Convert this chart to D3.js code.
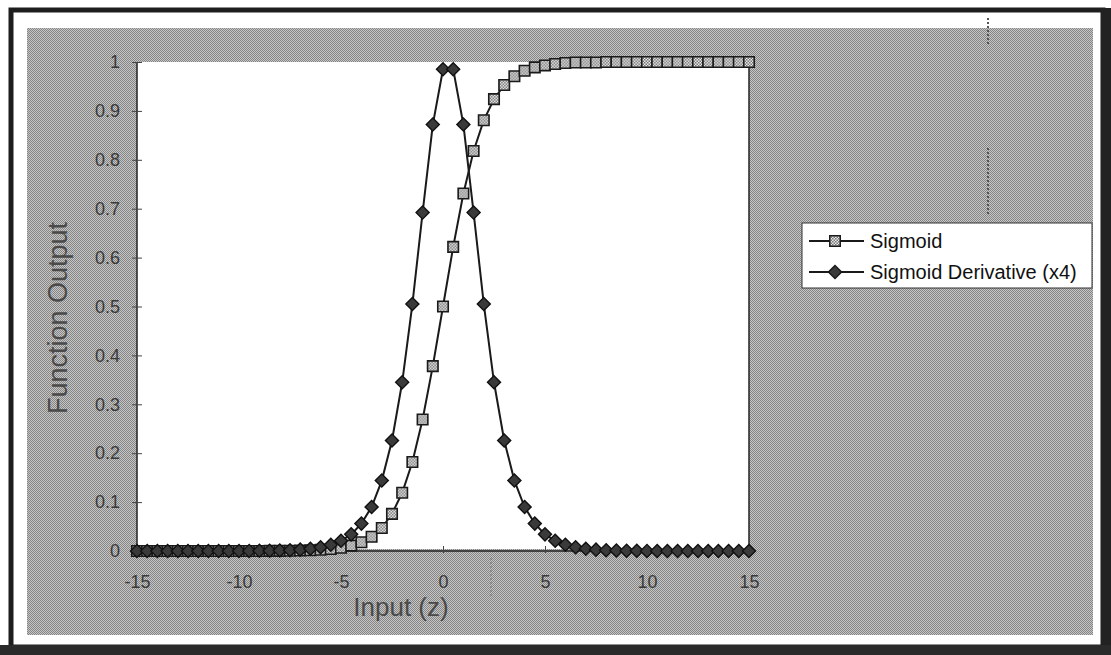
<!DOCTYPE html>
<html>
<head>
<meta charset="utf-8">
<script src="https://cdn.jsdelivr.net/npm/d3@7"></script>
<style>
  body { margin: 0; background: #fff; }
  text { font-family: Arial, "Liberation Sans", sans-serif; }
</style>
</head>
<body>
<div id="chart"></div>
<script>
// x values, -15 .. 15 step 0.5
const inputs = [
  -15, -14.5, -14, -13.5, -13, -12.5, -12, -11.5, -11, -10.5, -10, -9.5, -9, -8.5, -8, -7.5,
  -7, -6.5, -6, -5.5, -5, -4.5, -4, -3.5, -3, -2.5, -2, -1.5, -1, -0.5, 0,
  0.5, 1, 1.5, 2, 2.5, 3, 3.5, 4, 4.5, 5, 5.5, 6, 6.5, 7, 7.5, 8, 8.5, 9, 9.5,
  10, 10.5, 11, 11.5, 12, 12.5, 13, 13.5, 14, 14.5, 15
];

const sigmoid = [
  0, 0, 0, 0, 0, 0, 0, 0, 0, 0, 0, 0.0001, 0.0001, 0.0002, 0.0003, 0.0006,
  0.0009, 0.0015, 0.0025, 0.0041, 0.0067, 0.011, 0.018, 0.029, 0.047, 0.076, 0.119, 0.182, 0.269, 0.378, 0.5,
  0.622, 0.731, 0.818, 0.881, 0.924, 0.953, 0.971, 0.982, 0.989, 0.993, 0.996, 0.998, 0.999, 0.999, 0.999, 1, 1, 1, 1,
  1, 1, 1, 1, 1, 1, 1, 1, 1, 1, 1
];

const derivX4 = [
  0, 0, 0, 0, 0, 0, 0, 0, 0, 0, 0.0001, 0.0002, 0.0004, 0.0006, 0.001, 0.0017,
  0.0028, 0.0047, 0.0077, 0.0127, 0.021, 0.034, 0.056, 0.09, 0.144, 0.226, 0.345, 0.505, 0.692, 0.872, 0.985,
  0.985, 0.872, 0.692, 0.505, 0.345, 0.226, 0.144, 0.09, 0.056, 0.034, 0.021, 0.0127, 0.0077, 0.0047, 0.0028, 0.0017, 0.001, 0.0006, 0.0004, 0.0002,
  0.0001, 0, 0, 0, 0, 0, 0, 0, 0, 0, 0
];

const xTicks = [-15, -10, -5, 0, 5, 10, 15];
const yTicks = [0, 0.1, 0.2, 0.3, 0.4, 0.5, 0.6, 0.7, 0.8, 0.9, 1];
const seriesNames = ['Sigmoid', 'Sigmoid Derivative (x4)'];

const width = 1111, height = 655;
const plot = { left: 137, right: 749, top: 62, bottom: 551 };

const x = d3.scaleLinear().domain([-15, 15]).range([plot.left, plot.right]);
const y = d3.scaleLinear().domain([0, 1]).range([plot.bottom, plot.top]);

// plain hyphen for negatives, like the original
const fmt = d => d3.format('~g')(d).replace('\u2212', '-');

const svg = d3.select('#chart').append('svg')
  .attr('width', width)
  .attr('height', height);

// dither patterns
const defs = svg.append('defs');
const dither = defs.append('pattern').attr('id', 'dither')
  .attr('width', 2).attr('height', 2).attr('patternUnits', 'userSpaceOnUse');
dither.append('rect').attr('width', 2).attr('height', 2).attr('fill', '#c6c6c6');
dither.append('rect').attr('width', 1).attr('height', 1).attr('fill', '#858585');
dither.append('rect').attr('x', 1).attr('y', 1).attr('width', 1).attr('height', 1).attr('fill', '#858585');

const check = defs.append('pattern').attr('id', 'check')
  .attr('width', 3).attr('height', 3).attr('patternUnits', 'userSpaceOnUse');
check.append('rect').attr('width', 3).attr('height', 3).attr('fill', '#e8e8e8');
check.append('rect').attr('width', 1.5).attr('height', 1.5).attr('fill', '#777');
check.append('rect').attr('x', 1.5).attr('y', 1.5).attr('width', 1.5).attr('height', 1.5).attr('fill', '#777');

// scanned frame
svg.append('rect').attr('x', 11).attr('y', 10).attr('width', 1092).attr('height', 637)
  .attr('fill', '#fff').attr('stroke', '#1e1e1e').attr('stroke-width', 5);
svg.append('rect').attr('x', 1101).attr('y', 8).attr('width', 10).attr('height', 647).attr('fill', '#222');
svg.append('rect').attr('x', 0).attr('y', 645).attr('width', 1111).attr('height', 10).attr('fill', '#2a2a2a');

// chart area
svg.append('rect').attr('x', 27).attr('y', 28).attr('width', 1066).attr('height', 607)
  .attr('fill', 'url(#dither)');

// plot area
svg.append('rect')
  .attr('x', plot.left).attr('y', plot.top)
  .attr('width', plot.right - plot.left).attr('height', plot.bottom - plot.top - 2)
  .attr('fill', '#fff');

const frame = svg.append('g').attr('stroke', '#222').attr('stroke-width', 1.5);
frame.append('line').attr('x1', plot.left).attr('x2', plot.left).attr('y1', plot.top).attr('y2', plot.bottom);
frame.append('line').attr('x1', plot.right).attr('x2', plot.right).attr('y1', plot.top - 4).attr('y2', plot.bottom + 2);
frame.append('line').attr('x1', plot.left).attr('x2', plot.right).attr('y1', plot.bottom).attr('y2', plot.bottom);

// y axis
const yAxis = svg.append('g')
  .attr('transform', `translate(${plot.left},0)`)
  .call(d3.axisLeft(y).tickValues(yTicks).tickSize(5).tickPadding(12).tickFormat(fmt));
yAxis.select('.domain').remove();
yAxis.selectAll('.tick line').attr('x2', 5).attr('x1', -5).attr('stroke', '#444');
yAxis.selectAll('.tick text')
  .attr('font-size', 18).attr('fill', '#3a3a3a').attr('font-family', 'Arial, "Liberation Sans", sans-serif');

// x axis
const xAxis = svg.append('g')
  .attr('transform', `translate(0,${plot.bottom})`)
  .call(d3.axisBottom(x).tickValues(xTicks).tickSize(4).tickPadding(20).tickFormat(fmt));
xAxis.select('.domain').remove();
xAxis.selectAll('.tick line').attr('y1', -5).attr('y2', 2).attr('stroke', '#444');
xAxis.selectAll('.tick text')
  .attr('font-size', 18).attr('fill', '#3a3a3a').attr('font-family', 'Arial, "Liberation Sans", sans-serif');

// axis titles
svg.append('text')
  .attr('x', 401).attr('y', 616)
  .attr('text-anchor', 'middle')
  .attr('font-size', 26).attr('fill', '#4a4a4a')
  .text('Input (z)');

svg.append('text')
  .attr('transform', 'translate(67,318) rotate(-90)')
  .attr('text-anchor', 'middle')
  .attr('font-size', 27).attr('fill', '#4a4a4a')
  .text('Function Output');

// series
const sigData = inputs.map((v, i) => ({ x: v, y: sigmoid[i] }));
const derData = inputs.map((v, i) => ({ x: v, y: derivX4[i] }));

const line = d3.line().x(d => x(d.x)).y(d => y(d.y));

svg.append('path').datum(sigData)
  .attr('d', line).attr('fill', 'none').attr('stroke', '#1a1a1a').attr('stroke-width', 2);
svg.append('path').datum(derData)
  .attr('d', line).attr('fill', 'none').attr('stroke', '#1a1a1a').attr('stroke-width', 2);

const square = d3.symbol().type(d3.symbolSquare).size(110);
const diamond = d3.symbol().type(d3.symbolSquare).size(85);

svg.append('g').selectAll('path.sig')
  .data(sigData).enter()
  .append('path').attr('class', 'sig')
  .attr('transform', d => `translate(${x(d.x)},${y(d.y)})`)
  .attr('d', square)
  .attr('fill', 'url(#check)').attr('stroke', '#1a1a1a').attr('stroke-width', 1.6);

svg.append('g').selectAll('path.der')
  .data(derData).enter()
  .append('path').attr('class', 'der')
  .attr('transform', d => `translate(${x(d.x)},${y(d.y)}) rotate(45)`)
  .attr('d', diamond)
  .attr('fill', '#3a3a3a').attr('stroke', '#111').attr('stroke-width', 1.4);

// legend
const legend = svg.append('g');
legend.append('rect')
  .attr('x', 802).attr('y', 223).attr('width', 290).attr('height', 65)
  .attr('fill', '#fff').attr('stroke', '#333').attr('stroke-width', 1);

const rows = legend.selectAll('g.row')
  .data(seriesNames).enter()
  .append('g').attr('class', 'row')
  .attr('transform', (d, i) => `translate(0,${241 + i * 31})`);

rows.append('line')
  .attr('x1', 809).attr('x2', 864)
  .attr('stroke', '#1a1a1a').attr('stroke-width', 2);
rows.append('path')
  .attr('transform', (d, i) => i === 0 ? 'translate(835,0)' : 'translate(835,0) rotate(45)')
  .attr('d', (d, i) => i === 0 ? square() : diamond())
  .attr('fill', (d, i) => i === 0 ? 'url(#check)' : '#3a3a3a')
  .attr('stroke', '#1a1a1a').attr('stroke-width', 1.5);
rows.append('text')
  .attr('x', 870).attr('dy', '0.35em')
  .attr('font-size', 20).attr('fill', '#111')
  .text(d => d);

// scan marks
svg.append('line').attr('x1', 988).attr('x2', 988).attr('y1', 18).attr('y2', 45)
  .attr('stroke', '#555').attr('stroke-width', 2).attr('stroke-dasharray', '2,2');
svg.append('line').attr('x1', 988).attr('x2', 988).attr('y1', 148).attr('y2', 215)
  .attr('stroke', '#555').attr('stroke-width', 2).attr('stroke-dasharray', '2,2');
svg.append('line').attr('x1', 491).attr('x2', 491).attr('y1', 558).attr('y2', 598)
  .attr('stroke', '#777').attr('stroke-width', 1).attr('stroke-dasharray', '2,2');
</script>
</body>
</html>
